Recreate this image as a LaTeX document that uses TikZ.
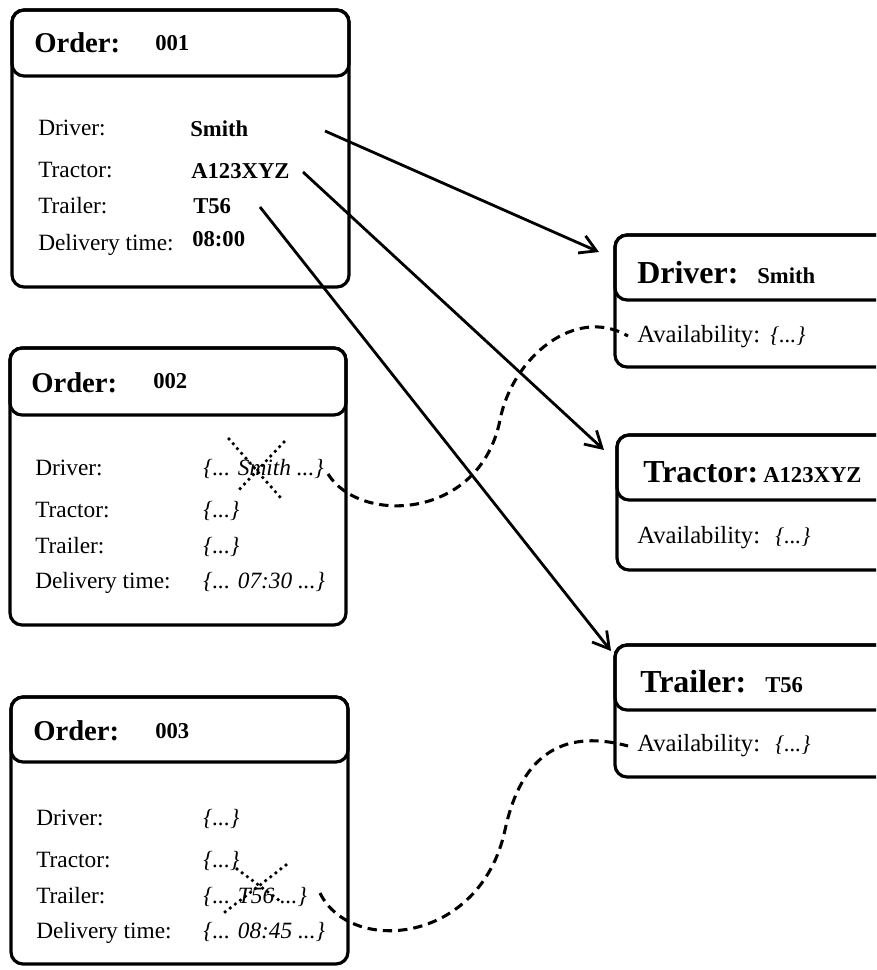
\documentclass[tikz,border=0pt]{standalone}
\usepackage{fontspec}
\setmainfont{Liberation Serif}
\usetikzlibrary{arrows.meta}

\begin{document}
\begin{tikzpicture}[
            x=0.75pt, y=-0.75pt,
            boxline/.style={line width=2.4pt, rounded corners=9pt},
            lbl/.style={anchor=base west, inner sep=0pt, font=\fontsize{17.5}{20}\selectfont},
            val/.style={lbl, font=\fontsize{17}{20}\selectfont\bfseries},
            ital/.style={lbl, font=\fontsize{17.5}{20}\selectfont\itshape},
            ttl/.style={lbl, font=\fontsize{21.5}{24}\selectfont\bfseries},
            rttl/.style={lbl, font=\fontsize{24}{27}\selectfont\bfseries},
            avl/.style={lbl, font=\fontsize{18.5}{21}\selectfont},
            avlval/.style={lbl, font=\fontsize{17}{20}\selectfont\itshape},
            link/.style={line width=2.1pt, -{Straight Barb[length=12pt,width=14pt,line width=2.1pt]}},
            swap/.style={line width=2.3pt, dash pattern=on 7pt off 4.5pt},
            crossout/.style={line width=2.8pt, line cap=round, dash pattern=on 0pt off 4.8pt}
            ]
            \useasboundingbox (0,0) rectangle (876,970);
            \clip (0,0) rectangle (876,970);

            % order 001
            \draw[boxline] (12,10) rectangle (349,287);
            \draw[boxline] (12,10) rectangle (349,76);
            \node[ttl] (o1) at (34,53) {Order:};
            \node[val] (o1n) at (155,51) {001};
            \node[lbl] (o1drv) at (38,136) {Driver:};
            \node[lbl] (o1trc) at (38,177) {Tractor:};
            \node[lbl] (o1trl) at (38,213) {Trailer:};
            \node[lbl] (o1del) at (38,250) {Delivery time:};
            \node[val] (smith1) at (190,137) {Smith};
            \node[val] (trc1) at (191,178) {A123XYZ};
            \node[val] (trl1) at (193,213) {T56};
            \node[val] (del1) at (192,246) {08:00};

            % order 002
            \draw[boxline] (10,348) rectangle (346,625);
            \draw[boxline] (10,348) rectangle (346,415);
            \node[ttl] (o2) at (31,392) {Order:};
            \node[val] (o2n) at (153,388) {002};
            \node[lbl] (o2drv) at (35,475) {Driver:};
            \node[lbl] (o2trc) at (35,517) {Tractor:};
            \node[lbl] (o2trl) at (35,553) {Trailer:};
            \node[lbl] (o2del) at (35,588) {Delivery time:};
            \node[ital] (smith2) at (203,475) {\{... Smith ...\}};
            \node[ital] (trc2) at (203,517) {\{...\}};
            \node[ital] (trl2) at (203,553) {\{...\}};
            \node[ital] (del2) at (203,588) {\{... 07:30 ...\}};
            \draw[crossout] (229,439) -- (280,497);
            \draw[crossout] (284,442) -- (237,492);

            % order 003
            \draw[boxline] (11,697) rectangle (348,964);
            \draw[boxline] (11,697) rectangle (348,762);
            \node[ttl] (o3) at (33,740) {Order:};
            \node[val] (o3n) at (155,738) {003};
            \node[lbl] (o3drv) at (36,825) {Driver:};
            \node[lbl] (o3trc) at (36,867) {Tractor:};
            \node[lbl] (o3trl) at (36,903) {Trailer:};
            \node[lbl] (o3del) at (36,938) {Delivery time:};
            \node[ital] (drv3) at (203,825) {\{...\}};
            \node[ital] (trc3) at (203,867) {\{...\}};
            \node[ital] (t56x) at (203,903) {\{... T56 ...\}};
            \node[ital] (del3) at (203,938) {\{... 08:45 ...\}};
            \draw[crossout] (237,869) -- (280,901);
            \draw[crossout] (286,865) -- (225,912);

            % resources
            \draw[boxline] (615,235) rectangle (900,367);
            \draw[boxline] (615,235) rectangle (900,300);
            \node[rttl] (rdrv) at (637,283) {Driver:};
            \node[val] (rdrvn) at (757,283) {Smith};
            \node[avl] (rdrva) at (637,342) {Availability:};
            \node[avlval] (rdrvv) at (770,342) {\{...\}};

            \draw[boxline] (617,435) rectangle (900,570);
            \draw[boxline] (617,435) rectangle (900,500);
            \node[rttl] (rtrc) at (643,482) {Tractor:};
            \node[val] (rtrcn) at (763,482) {A123XYZ};
            \node[avl] (rtrca) at (637,543) {Availability:};
            \node[avlval] (rtrcv) at (775,543) {\{...\}};

            \draw[boxline] (615,645) rectangle (900,777);
            \draw[boxline] (615,645) rectangle (900,710);
            \node[rttl] (rtrl) at (640,692) {Trailer:};
            \node[val] (rtrln) at (765,692) {T56};
            \node[avl] (rtrla) at (637,751) {Availability:};
            \node[avlval] (rtrlv) at (775,751) {\{...\}};

            % references
            \coordinate (smithout) at (325,131);
            \coordinate (trcout) at (303,172);
            \coordinate (trlout) at (260,207);
            \coordinate (drvin) at (599,252);
            \coordinate (trcin) at (604,450);
            \coordinate (trlin) at (611,651);
            \draw[link] (smithout) -- (drvin);
            \draw[link] (trcout) -- (trcin);
            \draw[link] (trlout) -- (trlin);

            % reassignments
            \coordinate (smithold) at (328,474);
            \coordinate (drvavl) at (628,336);
            \coordinate (t56old) at (320,893);
            \coordinate (trlavl) at (628,746);
            \draw[swap] (smithold) .. controls (360,525) and (480,520) .. (500,420)
                .. controls (512,358) and (575,305) .. (drvavl);
            \draw[swap] (t56old) .. controls (350,955) and (480,945) .. (505,830)
                .. controls (518,770) and (550,725) .. (trlavl);
        \end{tikzpicture}
\end{document}
